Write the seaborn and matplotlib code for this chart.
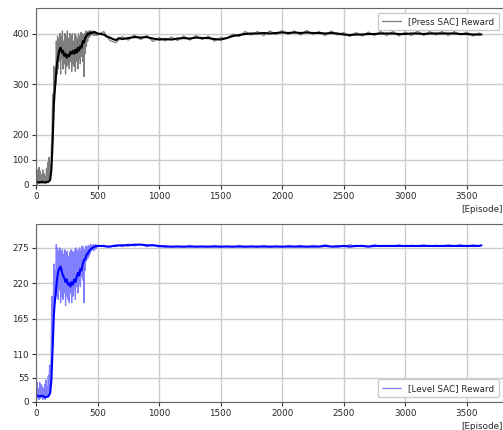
import numpy as np
import pandas as pd
import matplotlib
matplotlib.use("Agg")
import matplotlib.pyplot as plt
import seaborn as sns

# ---- data ----
raw_ep = list(range(0, 505, 5)) + list(range(550, 3650, 50)) + [3620]
avg_ep = ([0, 25, 50, 75, 100, 115, 125, 135, 145]
          + list(range(150, 451, 10))
          + [475, 500, 550, 575, 600, 625, 650, 675, 700]
          + list(range(750, 3601, 50)) + [3620])

# Press SAC
press_raw = [
    10, 50, 3, 60, 8, 70, 5, 55, 10, 40,
    5, 60, 15, 45, 5, 35, 8, 65, 10, 90,
    20, 110, 15, 80, 40, 150, 200, 280, 240, 335,
    270, 330, 300, 385, 320, 395, 330, 390, 345, 400,
    320, 395, 350, 405, 330, 385, 340, 400, 320, 395,
    335, 405, 340, 390, 330, 400, 345, 395, 325, 400,
    340, 385, 335, 400, 325, 395, 345, 390, 330, 400,
    350, 395, 340, 402, 355, 400, 345, 398, 315, 400,
    360, 405, 375, 402, 385, 405, 392, 404, 395, 406,
    397, 404, 398, 405, 396, 404, 397, 403, 396, 402,
    397,
    404, 386, 382, 394, 387, 397, 388, 396, 384, 392,
    385, 393, 386, 395, 387, 396, 388, 395, 385, 392,
    390, 399, 394, 404, 397, 404, 396, 405, 398, 406,
    398, 405, 397, 406, 398, 404, 396, 405, 397, 402,
    394, 402, 395, 403, 396, 404, 396, 404, 395, 403,
    396, 405, 396, 404, 397, 404, 396, 404, 397, 403,
    395, 401, 398,
]
press_avg = [
    12, 10, 12, 10, 12, 20, 60, 170, 260,
    280, 310, 340, 355, 368, 372, 362, 366, 356, 360,
    352, 358, 355, 364, 360, 366, 360, 368, 362, 372,
    366, 375, 372, 385, 382, 392, 395, 400, 398, 402, 401,
    403, 400, 398, 394, 392, 389, 387, 391, 389,
    391, 393, 392, 393, 390, 388, 389, 388, 390, 391,
    390, 392, 391, 391, 389, 388, 391, 395, 397, 399,
    400, 400, 401, 400, 401, 402, 401, 402, 401, 402,
    401, 401, 400, 401, 400, 398, 397, 398, 398, 399,
    399, 400, 400, 400, 399, 399, 400, 400, 399, 400,
    400, 400, 400, 400, 399, 399, 398, 398,
    398,
]

# Level SAC
level_raw = [
    40, 5, 45, 10, 30, 5, 45, 8, 40, 10,
    35, 5, 30, 8, 40, 5, 50, 10, 35, 15,
    60, 15, 85, 30, 60, 150, 200, 120, 180, 250,
    195, 240, 205, 280, 200, 275, 195, 270, 210, 275,
    190, 270, 200, 272, 195, 265, 205, 272, 185, 268,
    200, 270, 195, 262, 190, 268, 205, 272, 190, 270,
    200, 268, 210, 272, 195, 275, 215, 270, 205, 272,
    220, 275, 215, 270, 230, 278, 225, 276, 190, 272,
    240, 278, 255, 276, 258, 279, 262, 278, 266, 280,
    270, 279, 272, 280, 271, 279, 273, 280, 274, 279,
    277,
    279, 276, 280, 277, 281, 278, 281, 277, 280, 276,
    279, 276, 278, 276, 279, 276, 278, 276, 279, 276,
    278, 276, 279, 276, 278, 276, 279, 276, 278, 276,
    279, 277, 279, 276, 279, 277, 280, 277, 279, 277,
    280, 277, 279, 277, 280, 277, 279, 277, 280, 277,
    279, 277, 280, 277, 279, 277, 280, 278, 280, 277,
    280, 278, 279,
]
level_avg = [
    15, 12, 14, 10, 12, 20, 50, 120, 170,
    185, 205, 225, 238, 243, 246, 238, 232, 228, 222,
    226, 218, 220, 215, 222, 218, 226, 222, 230, 236,
    232, 242, 240, 250, 256, 258, 264, 266, 270, 272, 274,
    277, 278, 278, 277, 277, 278, 278, 279, 279,
    279, 280, 280, 279, 279, 278, 277,
    277, 277, 277, 277, 277, 277, 277, 277, 277, 277,
    277, 277, 277, 277, 277, 277, 277, 277, 277, 277,
    277, 277, 277, 277, 277, 278, 277, 277, 278, 277,
    278, 278, 277, 278, 278, 278, 278, 278, 278, 278,
    278, 278, 278, 278, 278, 278, 278, 278, 278, 278,
    278,
    279,
]

press_yticks = [0, 100, 200, 300, 400]
level_yticks = [0, 55, 110, 165, 220, 275]
xticks = [0, 500, 1000, 1500, 2000, 2500, 3000, 3500]


def broken_scale(brk, factor):
    """Piecewise linear y scale: values below `brk` are compressed by `factor`."""
    xp = np.array([-1e5, 0.0, brk, 1e5])
    fp = np.array([-1e5 * factor, 0.0, brk * factor, brk * factor + (1e5 - brk)])

    def fwd(v):
        return np.interp(v, xp, fp)

    def inv(v):
        return np.interp(v, fp, xp)

    return fwd, inv


sns.set_style("white")
plt.rcParams["font.family"] = ["DejaVu Sans"]
plt.rcParams["font.size"] = 6.3

fig = plt.figure(figsize=(5.03, 4.30), dpi=100)
ax1 = fig.add_axes([0.0716, 0.570, 0.9284, 0.411])
ax2 = fig.add_axes([0.0716, 0.066, 0.9284, 0.413])

panels = [
    (ax1, press_raw, press_avg, "#7f7f7f", "black", "[Press SAC] Reward",
     "upper right", press_yticks, (0, 450), broken_scale(200, 0.494)),
    (ax2, level_raw, level_avg, "#8080ff", "#0000ff", "[Level SAC] Reward",
     "lower right", level_yticks, (0, 312), broken_scale(110, 0.668)),
]

for ax, ry, sy, c_raw, c_avg, label, loc, yt, ylim, scl in panels:
    ax.set_yscale("function", functions=scl)
    raw = pd.DataFrame({"episode": raw_ep, "reward": ry})
    avg = pd.DataFrame({"episode": avg_ep, "reward": sy})
    sns.lineplot(data=raw, x="episode", y="reward", ax=ax, color=c_raw,
                 lw=0.9, label=label)
    sns.lineplot(data=avg, x="episode", y="reward", ax=ax, color=c_avg,
                 lw=1.5)
    ax.set_xlim(0, 3795)
    ax.set_ylim(*ylim)
    ax.set_xticks(xticks)
    ax.set_yticks(yt)
    ax.set_yticklabels([str(v) for v in yt])
    ax.minorticks_off()
    ax.grid(True, color="#cccccc", lw=1.0)
    ax.tick_params(axis="both", length=3, width=0.8, color="#333333",
                   labelsize=6.3, pad=2, bottom=True, left=True)
    for sp in ax.spines.values():
        sp.set_linestyle((0, (1, 1)))
        sp.set_color("#666666")
        sp.set_linewidth(0.8)
    ax.set_ylabel("")
    ax.set_xlabel("[Episode]", fontsize=6.3, ha="right")
    ax.xaxis.set_label_coords(1.0, -0.112)
    ax.legend(loc=loc, fontsize=6.3, frameon=True, framealpha=1.0,
              edgecolor="#cccccc", handlelength=2.2, borderpad=0.5)

fig.savefig("out.png", dpi=100)
